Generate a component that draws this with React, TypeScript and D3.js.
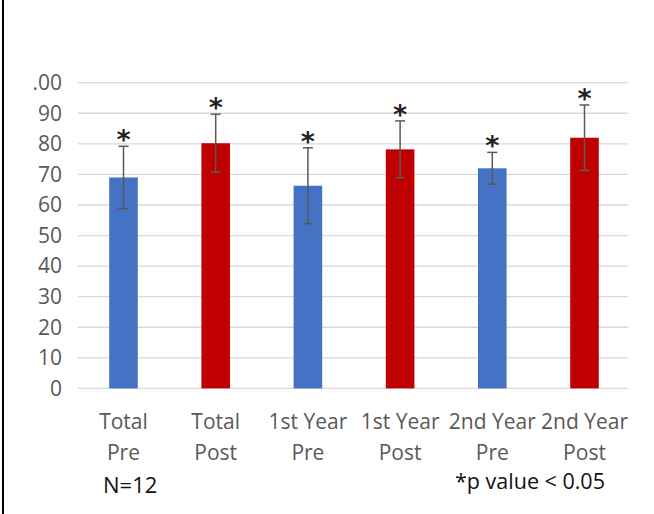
import React from 'react';
import * as d3 from 'd3';

const categories = ['Total Pre', 'Total Post', '1st Year Pre', '1st Year Post', '2nd Year Pre', '2nd Year Post'];
const labelLines = [
  ['Total', 'Pre'],
  ['Total', 'Post'],
  ['1st Year', 'Pre'],
  ['1st Year', 'Post'],
  ['2nd Year', 'Pre'],
  ['2nd Year', 'Post'],
];
const means = [69, 80.2, 66.3, 78.2, 72, 82];
const errors = [10.2, 9.5, 12.4, 9.3, 5.2, 10.7];
const significant = [true, true, true, true, true, true];
const yTicks = [0, 10, 20, 30, 40, 50, 60, 70, 80, 90, 100];
// the "1" of 100 is cut off in the source figure
const yTickLabels = ['0', '10', '20', '30', '40', '50', '60', '70', '80', '90', '.00'];

const width = 654;
const height = 514;
const font = "'Open Sans', sans-serif";
const blue = '#4472C4';
const red = '#C00000';

export default function App() {
  const x = d3.scaleBand().domain(categories).range([77.4, 630.6]).paddingInner(0.69).paddingOuter(0.345);
  const y = d3.scaleLinear().domain([0, 100]).range([388.4, 82.7]);

  return (
    <div style={{ position: 'absolute', left: 0, top: 0 }}>
      <svg width={width} height={height} style={{ display: 'block', background: '#fff' }}>
        {/* left frame edge */}
        <line x1={3} x2={3} y1={0} y2={height} stroke="#000" strokeWidth={2} />

        {/* grid + y labels */}
        {yTicks.map((t, i) => (
          <g key={t}>
            <line x1={78} x2={628} y1={y(t)} y2={y(t)} stroke="#D9D9D9" strokeWidth={1.3} />
            <text
              x={62}
              y={y(t)}
              dy="0.35em"
              textAnchor="end"
              fontFamily={font}
              fontSize={21}
              fill="#595959"
            >
              {yTickLabels[i]}
            </text>
          </g>
        ))}

        {/* bars */}
        {categories.map((c, i) => (
          <rect
            key={c}
            x={x(c)}
            y={y(means[i])}
            width={x.bandwidth()}
            height={y(0) - y(means[i])}
            fill={i % 2 === 0 ? blue : red}
          />
        ))}

        {/* error bars and asterisks */}
        {categories.map((c, i) => {
          const cx = (x(c) as number) + x.bandwidth() / 2;
          const top = y(means[i] + errors[i]);
          const bot = y(means[i] - errors[i]);
          return (
            <g key={c}>
              <line x1={cx} x2={cx} y1={top} y2={bot} stroke="#595959" strokeWidth={1.5} />
              <line x1={cx - 5} x2={cx + 5} y1={top} y2={top} stroke="#595959" strokeWidth={1.5} />
              <line x1={cx - 5} x2={cx + 5} y1={bot} y2={bot} stroke="#595959" strokeWidth={1.5} />
              {significant[i] && (
                <text
                  x={cx}
                  y={top + 3}
                  textAnchor="middle"
                  fontFamily="'DejaVu Sans', sans-serif"
                  fontWeight="bold"
                  fontSize={27}
                  fill="#222"
                >
                  *
                </text>
              )}
            </g>
          );
        })}

        {/* x labels */}
        {categories.map((c, i) => {
          const cx = (x(c) as number) + x.bandwidth() / 2;
          return (
            <text key={c} textAnchor="middle" fontFamily={font} fontSize={21} fill="#595959">
              <tspan x={cx} y={429}>{labelLines[i][0]}</tspan>
              <tspan x={cx} y={460}>{labelLines[i][1]}</tspan>
            </text>
          );
        })}

        <text x={103} y={493} fontFamily={font} fontSize={22} fill="#111">
          N=12
        </text>
        <text x={455} y={489} fontFamily={font} fontSize={21.5} fill="#111">
          *p value &lt; 0.05
        </text>
      </svg>
    </div>
  );
}
